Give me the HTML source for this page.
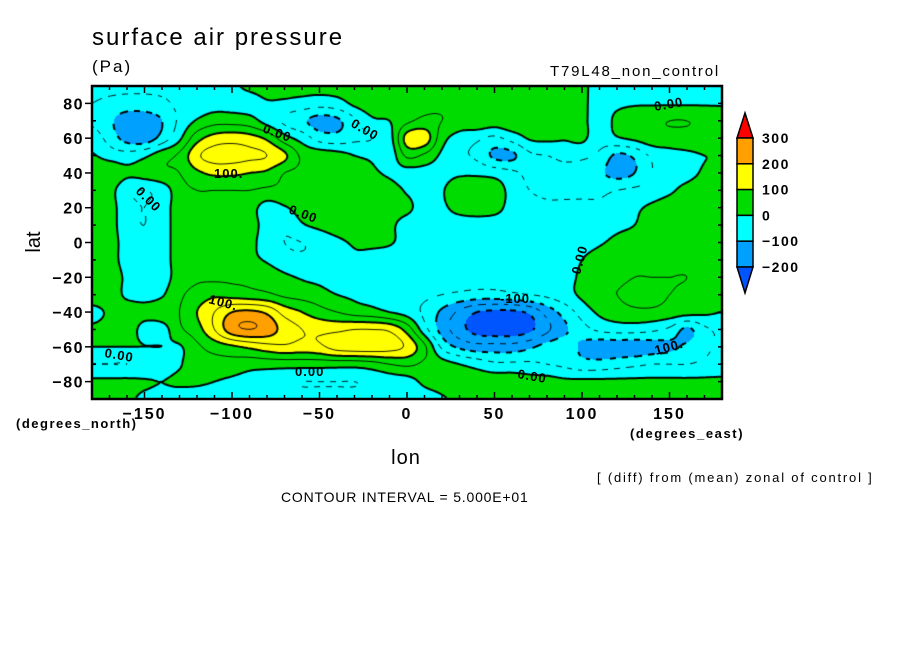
<!DOCTYPE html>
<html><head><meta charset="utf-8"><style>
html,body{margin:0;padding:0;background:#fff;}
#wrap{position:relative;width:904px;height:654px;overflow:hidden;font-family:"Liberation Sans",sans-serif;}
canvas{position:absolute;left:92px;top:86px;}
svg{position:absolute;left:0;top:0;}
</style></head><body>
<div id="wrap">
<canvas id="field" width="630" height="313"></canvas>
<svg id="ov" width="904" height="654">
  <text x="92" y="45" font-size="24" letter-spacing="2">surface air pressure</text>
  <text x="92" y="72" font-size="17" letter-spacing="2">(Pa)</text>
  <text x="720" y="76" font-size="15" letter-spacing="1.8" text-anchor="end">T79L48_non_control</text>
  <text x="16" y="428" font-size="13" letter-spacing="1.5" font-weight="bold">(degrees_north)</text>
  <text x="630" y="438" font-size="13" letter-spacing="1.6" font-weight="bold">(degrees_east)</text>
  <text x="40" y="242" font-size="20" text-anchor="middle" transform="rotate(-90 40 242)">lat</text>
  <text x="406" y="464" font-size="20" letter-spacing="1" text-anchor="middle">lon</text>
  <text x="597" y="482" font-size="13" letter-spacing="1.8">[ (diff) from (mean) zonal of control ]</text>
  <text x="281" y="502" font-size="14" letter-spacing="0.8">CONTOUR INTERVAL = 5.000E+01</text>
  <g id="axes"></g>
  <g id="clabels" font-size="13" font-weight="bold" letter-spacing="1">
    <text x="262" y="132" transform="rotate(20 262 132)">0.00</text>
    <text x="214" y="178">100.</text>
    <text x="135" y="192" transform="rotate(45 135 192)">0.00</text>
    <text x="288" y="213" transform="rotate(20 288 213)">0.00</text>
    <text x="208" y="303" transform="rotate(15 208 303)">100.</text>
    <text x="104" y="357" transform="rotate(10 104 357)">0.00</text>
    <text x="295" y="376">0.00</text>
    <text x="350" y="126" transform="rotate(30 350 126)">0.00</text>
    <text x="655" y="111" transform="rotate(-10 655 111)">0.00</text>
    <text x="580" y="275" transform="rotate(-75 580 275)">0.00</text>
    <text x="500" y="303">-100.</text>
    <text x="517" y="378" transform="rotate(10 517 378)">0.00</text>
    <text x="656" y="355" transform="rotate(-15 656 355)">100.</text>
  </g>
  <g id="cbar"></g>
</svg>
</div>
<script>
const lons = [-180,-170,-160,-150,-140,-130,-120,-110,-100,-90,-80,-70,-60,-50,-40,-30,-20,-10,0,10,20,30,40,50,60,70,80,90,100,110,120,130,140,150,160,170,180];
const lats = [90,80,70,60,50,40,30,20,10,0,-10,-20,-30,-40,-50,-60,-70,-80,-90];
const r90 = [-40,-40,-40,-40,-40,-40,-30,-30,-10,10, 20,20,20,20,20,20,30,30,30,30, 30,30,30,30,30,30,30,20,10,-20, -30,-30,-30,-30,-30,-30,-30];
const r80 = [-50,-60,-70,-70,-60,-40,-30,-20,-20,-20, -5,-10,-20,-30,-20,10,30,30,40,40, 40,30,40,50,40,30,30,20,10,-20, -10,-5,-5,-5,-5,-5,-5];
const r70 = [-60,-90,-130,-130,-100,-40,5,30,30,20, -20,-60,-90,-120,-110,-60,-10,0,40,60, 50,30,40,30,40,30,30,20,10,-20, 10,30,40,50,50,40,30];
const r60 = [-20,-70,-120,-130,-80,-10,80,120,130,120, 90,20,-20,-70,-80,-60,-50,-20,120,130, 20,-20,-40,-60,-30,5,10,5,10,-30, -5,10,30,30,30,30,30];
const r50 = [5,-20,-30,-10,30,60,140,170,170,160, 150,110,40,30,20,0,-10,-30,60,40, -10,-40,-60,-110,-110,-60,-50,-40,-40,-60, -110,-90,-40,-20,-10,0,0];
const r40 = [40,40,10,20,40,50,90,110,110,100, 90,50,40,30,30,20,10,-10,-20,-20, -20,-10,-10,-20,-40,-60,-60,-60,-70,-90, -120,-100,-50,-30,-20,10,30];
const r30 = [40,20,-40,-50,-30,30,50,50,50,50, 40,40,40,40,30,30,30,20,-5,-20, -5,40,40,30,-20,-50,-60,-60,-60,-60, -50,-40,-30,-10,20,40,40];
const r20 = [40,20,-30,-50,-20,20,40,40,30,20, -20,-5,20,30,30,30,20,20,10,-20, -10,20,30,20,-20,-30,-40,-40,-40,-40, -30,-10,10,30,40,40,40];
const r10 = [30,20,-30,-50,-20,20,40,40,20,20, -20,-40,-5,10,20,20,20,10,-20,-30, -30,-30,-30,-30,-30,-30,-30,-30,-30,-20, -10,0,20,30,40,40,40];
const r0  = [30,20,-20,-40,-20,20,30,20,10,10, -20,-50,-50,-30,-10,5,10,5,-20,-40, -40,-40,-40,-30,-30,-20,-30,-30,-20,-5, 10,20,30,40,40,40,40];
const rm10 = [30,20,-20,-40,-20,20,30,30,20,10, -5,-30,-40,-40,-30,-10,-20,-30,-40,-40, -40,-40,-40,-40,-40,-40,-30,-30,0,20, 30,40,40,40,40,40,40];
const rm20 = [40,30,-10,-30,-20,20,40,40,40,40, 30,10,-5,-15,-30,-30,-30,-30,-30,-30, -30,-30,-30,-30,-30,-30,-30,-20,10,30, 40,50,50,50,50,40,40];
const rm30 = [40,30,-10,-20,-5,40,70,90,80,70, 60,40,30,20,0,-10,-20,-30,-30,-40, -50,-60,-70,-70,-60,-50,-40,-20,10,40, 50,60,60,50,40,30,20];
const rm40 = [-20,10,30,20,30,50,100,150,200,210, 190,130,100,70,50,30,20,0,-20,-60, -110,-160,-200,-210,-210,-190,-130,-80,-30,10, 30,40,40,30,20,10,0];
const rm50 = [10,20,30,-20,-20,40,80,150,230,250, 230,180,150,140,140,150,150,140,80,-30, -120,-180,-220,-230,-230,-210,-160,-110,-70,-40, -30,-30,-40,-60,-110,-60,-40];
const rm60 = [0,0,0,0,0,-5,40,70,90,110, 130,140,130,140,170,180,180,170,140,60, -60,-110,-130,-130,-130,-110,-80,-70,-110,-130, -130,-130,-120,-110,-90,-60,-40];
const rm70 = [-50,-50,-50,-40,-30,-5,30,30,30,20, 20,20,20,20,20,20,30,50,60,40, 20,0,-20,-40,-40,-40,-50,-60,-80,-80, -70,-60,-50,-50,-50,-40,-30];
const rm80 = [10,10,10,5,0,10,10,0,-10,-20, -30,-40,-50,-50,-50,-50,-40,-30,-20,10, 20,30,30,30,30,20,20,10,10,10, 10,10,10,10,10,10,10];
const rm90 = [20,20,10,-10,-20,-30,-30,-30,-30,-30, -30,-30,-30,-30,-30,-30,-30,-30,-20,-20, -5,10,20,20,20,20,20,20,20,20, 20,20,20,20,20,20,20];
const psfc = [r90,r80,r70,r60,r50,r40,r30,r20,r10,r0,rm10,rm20,rm30,rm40,rm50,rm60,rm70,rm80,rm90];
const levels = [-250,-200,-150,-100,-50,0,50,100,150,200,250];
const fillColors = ['#0055ff','#00a0ff','#00ffff','#00dc00','#ffff00','#ffa000','#ff0000'];
const fillBounds = [-200,-100,0,100,200,300];
const cbarLabels = ['300','200','100','0','-100','-200'];
const latTicks = [80,60,40,20,0,-20,-40,-60,-80];
const lonTicks = [-150,-100,-50,0,50,100,150];

const PX=92, PY=86, PW=630, PH=313;
const xOf = lon => PX + (lon+180)/360*PW;
const yOf = lat => PY + (90-lat)/180*PH;

function cr(p0,p1,p2,p3,t){return 0.5*((2*p1)+(-p0+p2)*t+(2*p0-5*p1+4*p2-p3)*t*t+(-p0+3*p1-3*p2+p3)*t*t*t);}
function gv(i,j){const ni=lats.length, nj=lons.length;i=Math.max(0,Math.min(ni-1,i));j=Math.max(0,Math.min(nj-1,j));return psfc[i][j];}
function val(lon,lat){
  const gx=(lon-lons[0])/(lons[1]-lons[0]), gy=(lats[0]-lat)/(lats[0]-lats[1]);
  const j=Math.floor(gx), i=Math.floor(gy), tx=gx-j, ty=gy-i;
  const rows=[];
  for(let a=-1;a<=2;a++){rows.push(cr(gv(i+a,j-1),gv(i+a,j),gv(i+a,j+1),gv(i+a,j+2),tx));}
  return cr(rows[0],rows[1],rows[2],rows[3],ty);
}
function colorOf(v){let k=0;while(k<fillBounds.length&&v>=fillBounds[k])k++;return fillColors[k];}
function hex(c){return [parseInt(c.substr(1,2),16),parseInt(c.substr(3,2),16),parseInt(c.substr(5,2),16)];}

const cv=document.getElementById('field'), ctx=cv.getContext('2d');
const img=ctx.createImageData(PW,PH);
for(let y=0;y<PH;y++){for(let x=0;x<PW;x++){
  const lon=(x+0.5)/PW*360-180, lat=90-(y+0.5)/PH*180;
  const c=hex(colorOf(val(lon,lat)));const o=(y*PW+x)*4;
  img.data[o]=c[0];img.data[o+1]=c[1];img.data[o+2]=c[2];img.data[o+3]=255;}}
ctx.putImageData(img,0,0);

const S=2, nx=Math.floor(PW/S)+1, ny=Math.floor(PH/S)+1;
const G=[];
for(let y=0;y<ny;y++){const row=[];for(let x=0;x<nx;x++){row.push(val(x*S/PW*360-180,90-y*S/PH*180));}G.push(row);}
levels.forEach(L=>{
  const thick=(L%100===0);const neg=L<0;
  ctx.strokeStyle='#000';ctx.lineWidth=thick?2:0.9;
  ctx.beginPath();
  for(let y=0;y<ny-1;y++)for(let x=0;x<nx-1;x++){
    const a=G[y][x],b=G[y][x+1],c=G[y+1][x+1],d=G[y+1][x];
    const pts=[];
    const e=(v1,v2,x1,y1,x2,y2)=>{if((v1<L)!==(v2<L)){const t=(L-v1)/(v2-v1);pts.push([(x1+(x2-x1)*t)*S,(y1+(y2-y1)*t)*S]);}};
    e(a,b,x,y,x+1,y);e(b,c,x+1,y,x+1,y+1);e(c,d,x+1,y+1,x,y+1);e(d,a,x,y+1,x,y);
    for(let k=0;k+1<pts.length;k+=2){
      const mx=(pts[k][0]+pts[k+1][0])/2,my=(pts[k][1]+pts[k+1][1])/2;
      if(neg && Math.floor((mx+my*0.7)/6)%2===1) continue;
      ctx.moveTo(pts[k][0],pts[k][1]);ctx.lineTo(pts[k+1][0],pts[k+1][1]);}
  }
  ctx.stroke();
});

const NS='http://www.w3.org/2000/svg';
function mk(tag,attrs,parent){const el=document.createElementNS(NS,tag);for(const k in attrs)el.setAttribute(k,attrs[k]);parent.appendChild(el);return el;}
const ax=document.getElementById('axes');
const frame=mk('rect',{x:PX,y:PY,width:PW,height:PH,fill:'none',stroke:'#000','stroke-width':2.5},ax);


for(let lon=-170;lon<180;lon+=10){
  const major=lonTicks.indexOf(lon)>=0, len=major?7:4, x=xOf(lon);
  mk('line',{x1:x,y1:PY+PH,x2:x,y2:PY+PH-len,stroke:'#000','stroke-width':1.5},ax);
  mk('line',{x1:x,y1:PY,x2:x,y2:PY+len,stroke:'#000','stroke-width':1.5},ax);
}
for(let lat=-80;lat<=80;lat+=10){
  const major=latTicks.indexOf(lat)>=0, y=yOf(lat);
  mk('line',{x1:PX,y1:y,x2:major?PX-7:PX+4,y2:y,stroke:'#000','stroke-width':1.5},ax);
  mk('line',{x1:PX+PW,y1:y,x2:PX+PW-4,y2:y,stroke:'#000','stroke-width':1.5},ax);
}
latTicks.forEach(lat=>{
  const t=mk('text',{x:84,y:yOf(lat)+6,'font-size':16,'letter-spacing':1.5,'font-weight':'bold','text-anchor':'end'},ax);
  t.textContent=String(lat).replace('-','\u2212');
  
  
});
lonTicks.forEach(lon=>{
  const t=mk('text',{x:xOf(lon),y:419,'font-size':16,'letter-spacing':2,'font-weight':'bold','text-anchor':'middle'},ax);
  t.textContent=String(lon).replace('-','\u2212');
  
  
});
const cb=document.getElementById('cbar');
const cbx=737, cbw=16, cbTop=138, seg=25.8;
const up=mk('polygon',{points:`${cbx},${cbTop} ${cbx+cbw},${cbTop} ${cbx+cbw/2},${cbTop-25}`,fill:fillColors[6],stroke:'#000','stroke-width':1.5},cb);


for(let k=0;k<5;k++){
  const r=mk('rect',{x:cbx,y:cbTop+k*seg,width:cbw,height:seg,fill:fillColors[5-k],stroke:'#000','stroke-width':1.5},cb);
  
  
}
const lo=cbTop+5*seg;
const dn=mk('polygon',{points:`${cbx},${lo} ${cbx+cbw},${lo} ${cbx+cbw/2},${lo+26}`,fill:fillColors[0],stroke:'#000','stroke-width':1.5},cb);


cbarLabels.forEach((s,k)=>{
  const t=mk('text',{x:762,y:cbTop+k*seg+5,'font-size':14,'letter-spacing':1.5,'font-weight':'bold'},cb);
  t.textContent=s.replace('-','\u2212');
  
  
});
</script>
</body></html>
